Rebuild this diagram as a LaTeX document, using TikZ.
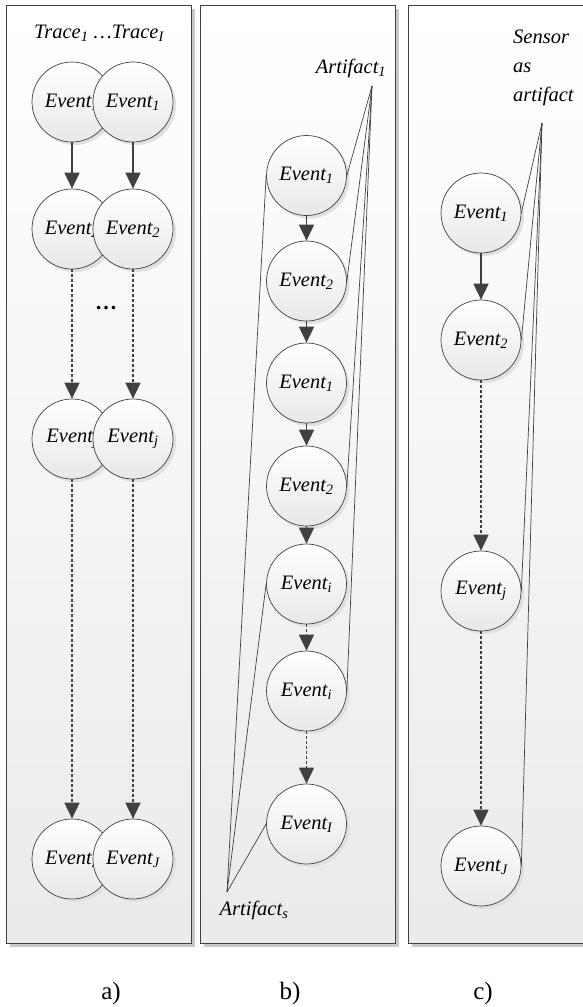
\documentclass[tikz,border=0pt]{standalone}
\usepackage{fontspec}
\setmainfont{Liberation Serif}
\usetikzlibrary{arrows.meta,shadows}
\newcommand{\ev}[1]{Event\textsubscript{#1}}
\tikzset{
  panel/.style={draw=black!75, line width=0.8pt, top color=white, bottom color=black!8,
    drop shadow={shadow xshift=4pt, shadow yshift=-4pt, fill=black!22, opacity=1}},
  evnode/.style={circle, draw=black!75, line width=0.7pt, minimum size=80pt, inner sep=0pt,
    top color=white, bottom color=black!9,
    drop shadow={shadow xshift=3pt, shadow yshift=-3pt, fill=black!12, opacity=1},
    font=\fontsize{20.5}{24}\selectfont\itshape},
  flow/.style={draw=black!75, line width=1.7pt, -{Triangle[length=16pt,width=15pt]}},
  dotflow/.style={flow, dash pattern=on 3pt off 2pt},
  link/.style={draw=black!75, line width=0.7pt},
  lbl/.style={inner sep=0pt, font=\fontsize{20.5}{29}\selectfont\itshape},
  captext/.style={inner sep=0pt, font=\fontsize{25}{28}\selectfont}
}
\begin{document}
\begin{tikzpicture}[x=1pt, y=-1pt]
    \useasboundingbox (0,0) rectangle (583,1007);

    \draw[panel] (6,5) rectangle (191,943);
    \draw[panel] (200,5) rectangle (395,943);
    \draw[panel] (408,5) rectangle (600,943);

    \node[lbl] (title) at (99,33) {Trace\textsubscript{1} \ldots Trace\textsubscript{I}};
    \node[evnode] (la1) at (72,102) {\ev{1}};
    \node[evnode] (ra1) at (133,102) {\ev{1}};
    \node[evnode] (la2) at (72,229) {\ev{2}};
    \node[evnode] (ra2) at (133,229) {\ev{2}};
    \node[captext, font=\fontsize{22}{24}\selectfont\bfseries] (dots) at (106,308) {\ldots};
    \node[evnode] (la3) at (72,439) {\ev{j}};
    \node[evnode] (ra3) at (133,439) {\ev{j}};
    \node[evnode] (la4) at (72,859) {\ev{J}};
    \node[evnode] (ra4) at (133,859) {\ev{J}};
    \draw[flow] (la1) -- (la2);
    \draw[flow] (ra1) -- (ra2);
    \draw[dotflow] (la2) -- (la3);
    \draw[dotflow] (ra2) -- (ra3);
    \draw[dotflow] (la3) -- (la4);
    \draw[dotflow] (ra3) -- (ra4);

    \node[lbl] (art1) at (351,68) {Artifact\textsubscript{1}};
    \coordinate (art1tip) at (372,86);
    \node[lbl] (arts) at (254,910) {Artifact\textsubscript{s}};
    \coordinate (artstip) at (227,892);
    \node[evnode] (b1) at (306.5,175.5) {\ev{1}};
    \node[evnode] (b2) at (306.5,281) {\ev{2}};
    \node[evnode] (b3) at (306.5,383) {\ev{1}};
    \node[evnode] (b4) at (306.5,486) {\ev{2}};
    \node[evnode] (b5) at (306.5,584) {\ev{i}};
    \node[evnode] (b6) at (306.5,691) {\ev{i}};
    \node[evnode] (b7) at (306.5,824) {\ev{I}};
    \draw[flow] (b1) -- (b2);
    \draw[flow] (b2) -- (b3);
    \draw[flow] (b3) -- (b4);
    \draw[flow] (b4) -- (b5);
    \draw[dotflow] (b5) -- (b6);
    \draw[dotflow] (b6) -- (b7);
    \draw[link] (art1tip) -- (b1.east);
    \draw[link] (art1tip) -- (b2.east);
    \draw[link] (art1tip) -- (b4.east);
    \draw[link] (art1tip) -- (b6.east);
    \draw[link] (artstip) -- (b1.west);
    \draw[link] (artstip) -- (b5.west);
    \draw[link] (artstip) -- (b7.west);

    \node[lbl, anchor=north west, align=left] (sensor) at (513,30) {Sensor\\as\\artifact};
    \coordinate (sensortip) at (542,123);
    \node[evnode] (c1) at (481,213) {\ev{1}};
    \node[evnode] (c2) at (481,340) {\ev{2}};
    \node[evnode] (c3) at (481,591) {\ev{j}};
    \node[evnode] (c4) at (481,866) {\ev{J}};
    \draw[flow] (c1) -- (c2);
    \draw[dotflow] (c2) -- (c3);
    \draw[dotflow] (c3) -- (c4);
    \draw[link] (sensortip) -- (c1.east);
    \draw[link] (sensortip) -- (c2.east);
    \draw[link] (sensortip) -- (c3.east);
    \draw[link] (sensortip) -- (c4.east);

    \node[captext] (capa) at (111,993) {a)};
    \node[captext] (capb) at (290,993) {b)};
    \node[captext] (capc) at (483,993) {c)};
\end{tikzpicture}
\end{document}
